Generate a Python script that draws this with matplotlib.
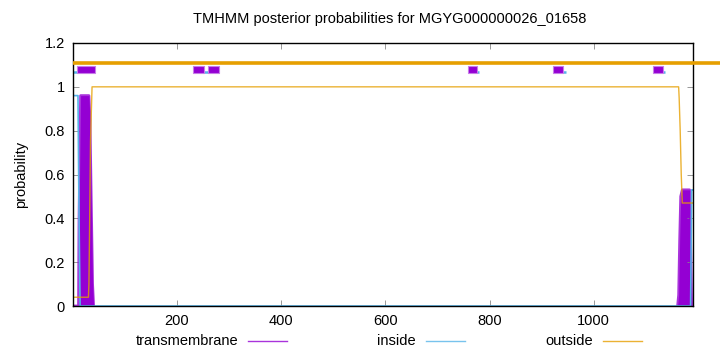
import matplotlib
matplotlib.use('Agg')
import matplotlib.pyplot as plt
from matplotlib.patches import Rectangle
from matplotlib.lines import Line2D

plt.rcParams['font.family'] = ['Liberation Sans', 'DejaVu Sans']
plt.rcParams['font.size'] = 10.5

seq_len = 1190

# posterior probabilities (breakpoints)
tm_x = [1, 11, 12, 15, 31, 33, 36, 38, 40, 1161, 1163, 1165, 1167, 1170, 1184, 1186, 1188, 1190]
tm_y = [0, 0, 0.4, 0.96, 0.96, 0.85, 0.4, 0.1, 0, 0, 0.05, 0.3, 0.5, 0.53, 0.53, 0.3, 0, 0]
in_x = [1, 10, 12, 14, 1186, 1188, 1190]
in_y = [0.96, 0.96, 0.4, 0, 0, 0.53, 0.53]
out_x = [1, 30, 31, 32, 34, 37, 1163, 1164, 1166, 1168, 1170, 1190]
out_y = [0.04, 0.04, 0.1, 0.3, 0.75, 1.0, 1.0, 0.95, 0.8, 0.6, 0.47, 0.47]

# predicted topology at the top
tm_segments = [(8, 43), (230, 251), (260, 281), (758, 775), (922, 941), (1113, 1133)]
in_segments = [(1, 8), (251, 260), (775, 780), (941, 946), (1133, 1137)]

c_tm = '#9400d3'
c_in = '#56b4e9'
c_out = '#e69f00'

fig = plt.figure(figsize=(7.2, 3.52), dpi=100)
ax = fig.add_axes([73.3 / 720, 1 - 306 / 352, (692.7 - 73.3) / 720, (306 - 43) / 352])

ax.fill_between(tm_x, tm_y, 0, color=c_tm, lw=0)
# thick outline on the two peaks only (the zero stretch stays hidden under "inside")
ax.plot(tm_x[:9], tm_y[:9], color=c_tm, lw=2, alpha=0.8)
ax.plot(tm_x[9:], tm_y[9:], color=c_tm, lw=2, alpha=0.8)
ax.plot(in_x, in_y, color=c_in, lw=1.2)
ax.plot(out_x, out_y, color=c_out, lw=1, alpha=0.8)

for a, b in tm_segments:
    ax.add_patch(Rectangle((a, 1.064), b - a, 0.032, facecolor=c_tm,
                           edgecolor='#c77de8', lw=0.8, zorder=3))
for a, b in in_segments:
    ax.plot([a, b], [1.069, 1.069], color=c_in, lw=1.8, zorder=2, solid_capstyle='butt')
ax.plot([1, 1330], [1.108, 1.108], color=c_out, lw=2.6, zorder=4, clip_on=False,
        solid_capstyle='butt')

ax.set_xlim(1, seq_len)
ax.set_ylim(0, 1.2)
ax.set_xticks([200, 400, 600, 800, 1000])
ax.set_yticks([0, 0.2, 0.4, 0.6, 0.8, 1.0, 1.2])
ax.set_yticklabels(['0', '0.2', '0.4', '0.6', '0.8', '1', '1.2'])
ax.tick_params(direction='in', top=True, right=True, length=4, width=0.6,
               color='#888888', pad=6)
for s in ax.spines.values():
    s.set_linewidth(1)
ax.set_ylabel('probability', labelpad=12)

fig.text(390 / 720, 1 - 19 / 352, 'TMHMM posterior probabilities for MGYG000000026_01658',
         ha='center', va='center')

# legend along the bottom
leg = [('transmembrane', c_tm, 238, 248), ('inside', c_in, 416, 426), ('outside', c_out, 593, 603)]
for name, col, tx, lx in leg:
    fig.text(tx / 720, 1 - 341 / 352, name, ha='right', va='center')
    fig.add_artist(Line2D([lx / 720, (lx + 39) / 720], [1 - 341 / 352, 1 - 341 / 352],
                          color=col, lw=1, alpha=0.8))

fig.savefig('out.png', dpi=100)
